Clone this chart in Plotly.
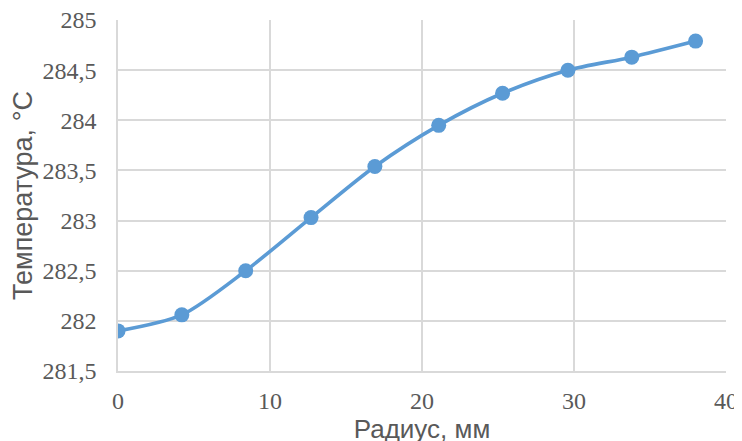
import plotly.graph_objects as go

radius_mm = [0, 4.2, 8.4, 12.7, 16.9, 21.1, 25.3, 29.6, 33.8, 38.0]
temperature_c = [281.90, 282.06, 282.50, 283.03, 283.54, 283.95, 284.27, 284.50, 284.63, 284.79]

x_tickvals = [0, 10, 20, 30, 40]
x_ticktext = ["0", "10", "20", "30", "40"]
y_tickvals = [281.5, 282, 282.5, 283, 283.5, 284, 284.5, 285]
y_ticktext = ["281,5", "282", "282,5", "283", "283,5", "284", "284,5", "285"]

color = "#5B9BD5"
grid = "#D9D9D9"

fig = go.Figure(go.Scatter(
    x=radius_mm, y=temperature_c, mode="lines+markers",
    line=dict(color=color, width=3.6, shape="spline", smoothing=0.8),
    marker=dict(color=color, size=15),
    hoverinfo="skip",
))

# page body has an 8px margin, so the figure is offset by 8px
fig.update_layout(
    width=742, height=441,
    margin=dict(l=110, r=24, t=12, b=78),
    paper_bgcolor="white", plot_bgcolor="white",
    showlegend=False,
    font=dict(family="Liberation Serif", color="#595959"),
)
fig.update_xaxes(
    range=[0, 40.001], tickvals=x_tickvals, ticktext=x_ticktext,
    showgrid=True, gridcolor=grid, gridwidth=1.5,
    showline=True, linecolor=grid, linewidth=1.5, zeroline=False,
    tickfont=dict(family="Liberation Serif", size=24, color="#595959"),
    ticklabelstandoff=7, automargin=False, ticklabeloverflow="allow",
    title=dict(text="Радиус, мм", font=dict(family="Liberation Sans", size=26, color="#595959"), standoff=3),
)
fig.update_yaxes(
    range=[281.5, 285.0005], tickvals=y_tickvals, ticktext=y_ticktext,
    showgrid=True, gridcolor=grid, gridwidth=1.5,
    showline=True, linecolor=grid, linewidth=1.5, zeroline=False,
    tickfont=dict(family="Liberation Serif", size=24, color="#595959"),
    ticklabelstandoff=15, automargin=False, ticklabeloverflow="allow",
    title=dict(text="Температура, °C", font=dict(family="Liberation Sans", size=27, color="#595959"), standoff=10),
)

fig.write_html("out.html")
